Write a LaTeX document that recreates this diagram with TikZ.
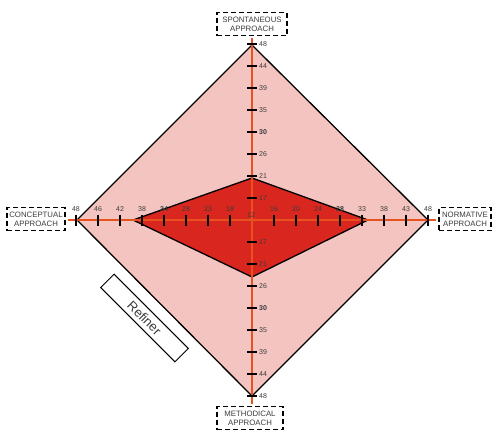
\documentclass[tikz,border=0pt]{standalone}
\usepackage{fontspec}
\setmainfont{Liberation Sans}
\usetikzlibrary{positioning}

\definecolor{petal}{RGB}{244,196,192}
\definecolor{core}{RGB}{217,38,30}
\definecolor{axisline}{RGB}{232,82,30}
\definecolor{lbl}{RGB}{60,60,60}

\tikzset{
  approach/.style={draw, dash pattern=on 5pt off 3pt, line width=1.5pt,
    align=center, font=\fontsize{7.8}{9}\selectfont, text=lbl,
    inner sep=0pt, minimum height=23pt},
  val/.style={font=\fontsize{7}{7}\selectfont, text=lbl, inner sep=1pt},
  tickmark/.style={line width=1.7pt, black},
  axisdraw/.style={axisline, line width=1.7pt}
}

\begin{document}
\begin{tikzpicture}[x=1pt,y=-1pt]
  \useasboundingbox (0,0) rectangle (493,431);
  \coordinate (O) at (252,220);
  \coordinate (T) at (252,45);
  \coordinate (R) at (428,220);
  \coordinate (B) at (252,396);
  \coordinate (L) at (77,220);
  \coordinate (t) at (252,178);
  \coordinate (r) at (368,220);
  \coordinate (b) at (252,277);
  \coordinate (l) at (133,220);
  \coordinate (axW) at (68,220);
  \coordinate (axE) at (436,220);
  \coordinate (axN) at (252,38);
  \coordinate (axS) at (252,404);
  % diamonds
  \draw[fill=petal, line width=1.3pt] (T) -- (R) -- (B) -- (L) -- cycle;
  \draw[fill=core, line width=1.3pt] (t) -- (r) -- (b) -- (l) -- cycle;
  % axes
  \draw[axisdraw] (axW) -- (axE);
  \draw[axisdraw] (axN) -- (axS);
  % ticks and values
  \foreach \v [count=\k] in {18,23,28,{\textbf{34}},38,42,46,48} {
    \draw[tickmark] ({252-22*\k},214.5) -- ++(0,11);
    \node[val] at ({252-22*\k},209) {\v};
  }
  \foreach \v [count=\k] in {16,20,24,{\textbf{28}},33,38,43,48} {
    \draw[tickmark] ({252+22*\k},214.5) -- ++(0,11);
    \node[val] at ({252+22*\k},209) {\v};
  }
  \foreach \v [count=\k] in {17,21,26,{\textbf{30}},35,39,44,48} {
    \draw[tickmark] (247,{220-22*\k}) -- ++(10,0);
    \node[val, anchor=west] at (258,{220-22*\k}) {\v};
    \draw[tickmark] (247,{220+22*\k}) -- ++(10,0);
    \node[val, anchor=west] at (258,{220+22*\k}) {\v};
  }
  \node[val] (zero) at (251,215) {12};
  % approaches
  \node[approach, minimum width=70pt] (spont) at (252,24) {SPONTANEOUS\\APPROACH};
  \node[approach, minimum width=58pt] (concept) at (36,219) {CONCEPTUAL\\APPROACH};
  \node[approach, minimum width=52pt] (norm) at (465,219) {NORMATIVE\\APPROACH};
  \node[approach, minimum width=66pt] (method) at (250,418) {METHODICAL\\APPROACH};
  \node[draw, rotate=-45, minimum width=105pt, minimum height=19pt,
    line width=1pt, text=lbl, font=\fontsize{13}{13}\selectfont] (refiner) at (144.5,318) {Refiner};
\end{tikzpicture}
\end{document}
